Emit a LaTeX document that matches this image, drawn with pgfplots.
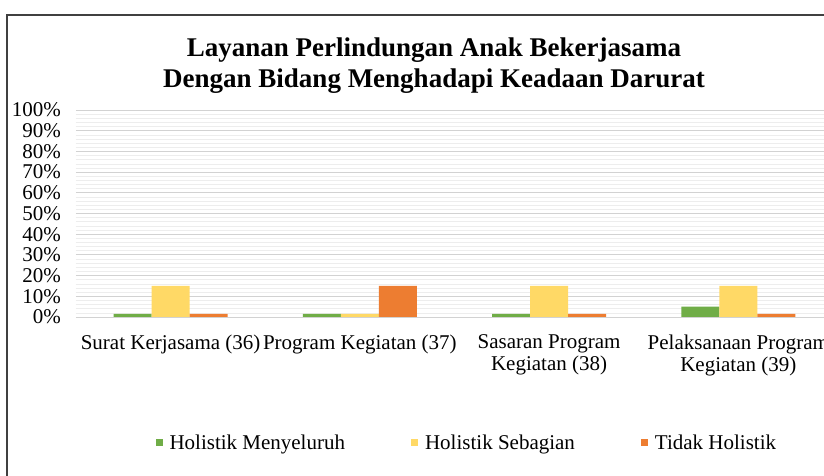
\documentclass[border=0pt]{standalone}
\usepackage{fontspec}
\setmainfont{Liberation Serif}
\usepackage{pgfplots}
\pgfplotsset{compat=1.18}
\definecolor{hgreen}{HTML}{70AD47}
\definecolor{hyellow}{HTML}{FFD966}
\definecolor{horange}{HTML}{ED7D31}
\begin{document}
\begin{tikzpicture}
\begin{scope}[x=1pt,y=1pt,shift={(-76pt,-159pt)}]
\fill[white] (0,0) rectangle (824,476);
\end{scope}
\begin{axis}[
    anchor=origin, at={(94.6pt,0pt)},
    scale only axis, width=757pt, height=207pt,
    ybar=0pt, bar width=38pt,
    xmin=-0.5, xmax=3.5, ymin=0, ymax=100,
    xtick={0,1,2,3},
    xticklabels={Surat Kerjasama (36), Program Kegiatan (37), {Sasaran Program\\Kegiatan (38)}, {Pelaksanaan Program\\Kegiatan (39)}},
    ytick={0,10,...,100},
    minor y tick num=4,
    yticklabel={\pgfmathprintnumber{\tick}\%},
    /pgf/number format/assume math mode=true,
    ymajorgrids, yminorgrids,
    major grid style={gray!35, line width=0.8pt},
    minor grid style={gray!14, line width=0.6pt},
    axis line style={draw=none},
    major tick style={draw=none}, minor tick style={draw=none},
    ticklabel style={font=\fontsize{21}{22}\selectfont},
    xticklabel style={align=center, anchor=north, inner sep=0pt, yshift=-13pt},
    yticklabel style={anchor=east, inner sep=0pt, xshift=-15pt},
    legend columns=3,
    legend style={at={(0.515,-0.607)}, anchor=center, draw=none, fill=none,
        font=\fontsize{21}{22}\selectfont, inner sep=0pt,
        nodes={inner sep=0pt, anchor=west},
        /tikz/every odd column/.append style={column sep=7pt},
        /tikz/every even column/.append style={column sep=66pt}},
    legend image code/.code={\fill[#1] (0pt,-3.5pt) rectangle (7pt,3.5pt);},
]
\addplot[fill=hgreen, draw=none] coordinates {(0,1.5) (1,1.5) (2,1.5) (3,5)};
\addplot[fill=hyellow, draw=none] coordinates {(0,15) (1,1.5) (2,15) (3,15)};
\addplot[fill=horange, draw=none] coordinates {(0,1.5) (1,15) (2,1.5) (3,1.5)};
\legend{Holistik Menyeluruh, Holistik Sebagian, Tidak Holistik}
\end{axis}
\begin{scope}[x=1pt,y=1pt,shift={(-76pt,-159pt)}]
\draw[line width=1.5pt, black!75] (7,-5) -- (7,461) -- (830,461);
\node[anchor=base, font=\fontsize{27}{31}\selectfont\bfseries] at (434,419) {Layanan Perlindungan Anak Bekerjasama};
\node[anchor=base, font=\fontsize{27}{31}\selectfont\bfseries] at (434,388) {Dengan Bidang Menghadapi Keadaan Darurat};
\end{scope}
\pgfresetboundingbox
\useasboundingbox (-76pt,-159pt) rectangle (748pt,317pt);
\end{tikzpicture}
\end{document}
